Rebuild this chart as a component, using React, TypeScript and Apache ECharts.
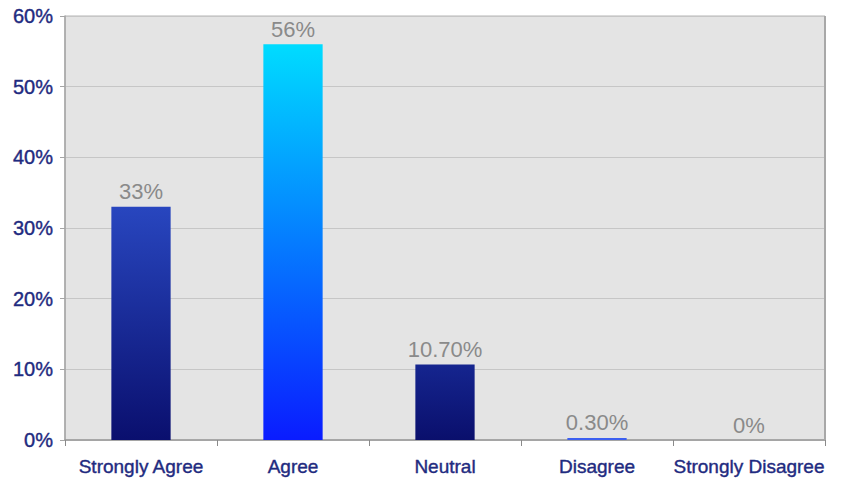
import React, { useEffect, useRef } from "react";
import * as echarts from "echarts";

const categories = ["Strongly Agree", "Agree", "Neutral", "Disagree", "Strongly Disagree"];
const values = [33, 56, 10.7, 0.3, 0];
const valueLabels = ["33%", "56%", "10.70%", "0.30%", "0%"];
const yTicks = [0, 10, 20, 30, 40, 50, 60];

// top / bottom colours of each bar's vertical gradient
const barTop = ["#2846bf", "#00dcff", "#15258f", "#3c5ff0", "#3c5ff0"];
const barBottom = ["#0a0f6e", "#0a1cff", "#0a0f6c", "#3c5ff0", "#3c5ff0"];

const FONT = "'Liberation Sans', Arial, Helvetica, sans-serif";
const NAVY = "#1f2b80";

export default function App() {
  const ref = useRef<HTMLDivElement>(null);

  useEffect(() => {
    if (!ref.current) return;
    const chart = echarts.init(ref.current, null, { renderer: "svg" });
    chart.setOption({
      animation: false,
      backgroundColor: "#ffffff",
      grid: {
        left: 65,
        right: 23,
        top: 16,
        bottom: 39,
        show: true,
        backgroundColor: "#e4e4e4",
        borderColor: "#b5b5b5",
        borderWidth: 1,
      },
      graphic: [
        {
          // darker right edge of the plot frame
          type: "line",
          shape: { x1: 825, y1: 16, x2: 825, y2: 440 },
          style: { stroke: "#a8a8a8", lineWidth: 2 },
          z: 10,
        },
      ],
      xAxis: {
        type: "category",
        data: categories,
        axisLine: { lineStyle: { color: "#9a9a9a", width: 1.5 } },
        axisTick: { show: true, length: 6, lineStyle: { color: "#8a8a8a" } },
        axisLabel: {
          color: NAVY,
          fontFamily: FONT,
          fontSize: 19,
          margin: 17,
          interval: 0,
          textBorderColor: NAVY,
          textBorderWidth: 0.4,
        },
      },
      yAxis: {
        type: "value",
        min: yTicks[0],
        max: yTicks[yTicks.length - 1],
        interval: 10,
        axisLine: { show: true, lineStyle: { color: "#a5a5a5", width: 1.5 } },
        axisTick: { show: true, length: 5, lineStyle: { color: "#a5a5a5" } },
        splitLine: { lineStyle: { color: "#c6c6c6", width: 1 } },
        axisLabel: {
          color: NAVY,
          fontFamily: FONT,
          fontSize: 20,
          margin: 12,
          textBorderColor: NAVY,
          textBorderWidth: 0.4,
          formatter: (v: number) => `${v}%`,
        },
      },
      series: [
        {
          type: "bar",
          barWidth: "39%",
          data: values.map((v, i) => ({
            value: v,
            itemStyle: {
              color: new echarts.graphic.LinearGradient(0, 0, 0, 1, [
                { offset: 0, color: barTop[i] },
                { offset: 1, color: barBottom[i] },
              ]),
            },
          })),
          label: {
            show: true,
            position: "top",
            distance: 4,
            color: "#8a8a8a",
            fontFamily: FONT,
            fontSize: 22,
            formatter: (p: any) => valueLabels[p.dataIndex],
          },
        },
      ],
    });
    return () => chart.dispose();
  }, []);

  return (
    <div
      ref={ref}
      style={{ position: "fixed", left: 0, top: 0, width: 848, height: 479 }}
    />
  );
}
